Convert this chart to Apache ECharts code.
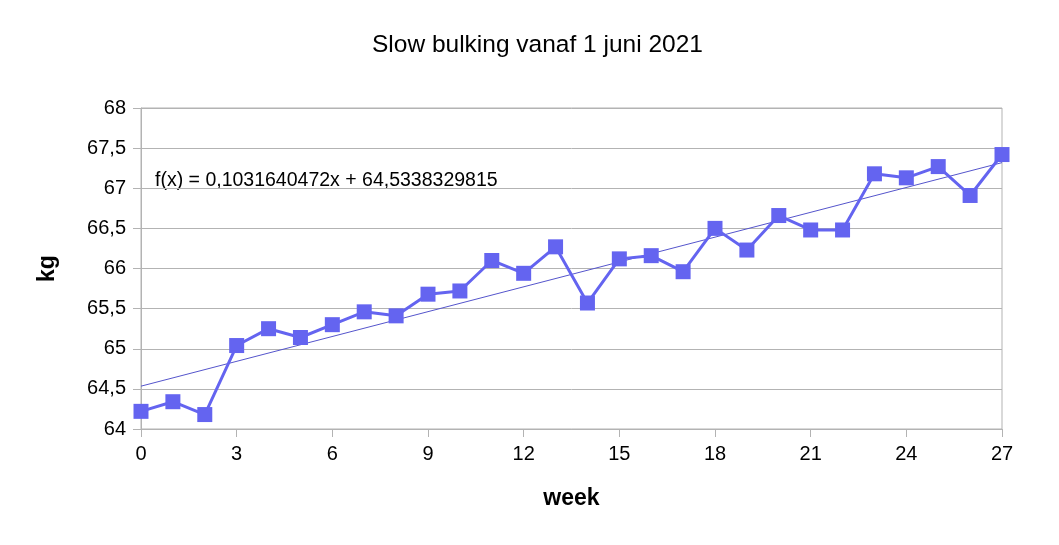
<!DOCTYPE html>
<html>
<head>
<meta charset="utf-8">
<script src="https://cdn.jsdelivr.net/npm/echarts@6/dist/echarts.min.js"></script>
<style>
html,body{margin:0;padding:0;background:#fff;}
#chart{width:1059px;height:545px;}
</style>
</head>
<body>
<div id="chart"></div>
<script>
var weeks = [0,1,2,3,4,5,6,7,8,9,10,11,12,13,14,15,16,17,18,19,20,21,22,23,24,25,26,27];
var kg = [64.22,64.34,64.18,65.04,65.25,65.14,65.30,65.46,65.41,65.68,65.72,66.10,65.94,66.27,65.57,66.12,66.16,65.96,66.50,66.23,66.66,66.48,66.48,67.18,67.13,67.27,66.91,67.42];
var trendSlope = 0.1031640472;
var trendIntercept = 64.5338329815;
var xTicks = {min: 0, max: 27, interval: 3};
var yTicks = {min: 64, max: 68, interval: 0.5};
var titleText = 'Slow bulking vanaf 1 juni 2021';
var xName = 'week';
var yName = 'kg';

function comma(v){ return String(v).replace('.', ','); }

var points = weeks.map(function(w, i){ return [w, kg[i]]; });
var trend = [[xTicks.min, trendIntercept + trendSlope * xTicks.min],
             [xTicks.max, trendIntercept + trendSlope * xTicks.max]];
var eqText = 'f(x) = ' + comma(trendSlope) + 'x + ' + comma(trendIntercept);

var font = 'Liberation Sans, Arial, sans-serif';
var gray = '#b3b3b3';
var chart = echarts.init(document.getElementById('chart'));
chart.setOption({
  animation: false,
  backgroundColor: '#fff',
  title: {
    text: titleText, left: 367, top: 28,
    textStyle: {fontFamily: font, fontSize: 24.5, fontWeight: 'normal', color: '#000'}
  },
  grid: {left: 141, right: 57, top: 108, bottom: 116, show: true, borderColor: gray, borderWidth: 1, backgroundColor: 'transparent'},
  xAxis: {
    type: 'value', min: xTicks.min, max: xTicks.max, interval: xTicks.interval,
    name: xName, nameLocation: 'middle', nameGap: 58,
    nameTextStyle: {fontFamily: font, fontSize: 23, fontWeight: 'bold', color: '#000'},
    axisLine: {show: true, lineStyle: {color: gray, width: 1}},
    axisTick: {show: true, length: 8, lineStyle: {color: gray}},
    axisLabel: {fontFamily: font, fontSize: 20, color: '#000', margin: 15, formatter: function(v){return comma(v);}},
    splitLine: {show: false}
  },
  yAxis: {
    type: 'value', min: yTicks.min, max: yTicks.max, interval: yTicks.interval,
    name: yName, nameLocation: 'middle', nameGap: 82, nameRotate: 90,
    nameTextStyle: {fontFamily: font, fontSize: 23, fontWeight: 'bold', color: '#000'},
    axisLine: {show: true, lineStyle: {color: gray, width: 1}},
    axisTick: {show: true, length: 8, lineStyle: {color: gray}},
    axisLabel: {fontFamily: font, fontSize: 20, color: '#000', margin: 15, formatter: function(v){return comma(v);}},
    splitLine: {show: true, lineStyle: {color: gray, width: 1}}
  },
  graphic: [{
    type: 'text', left: 155, top: 171,
    style: {text: eqText, fontFamily: font, fontSize: 19.5, fill: '#000'}
  }],
  series: [
    {
      type: 'line', data: trend, symbol: 'none', silent: true, z: 3,
      lineStyle: {color: '#5555cc', width: 1}
    },
    {
      type: 'line', data: points, symbol: 'rect', symbolSize: 15, z: 4,
      itemStyle: {color: '#6464f0'},
      lineStyle: {color: '#6464f0', width: 3}
    }
  ]
});
</script>
</body>
</html>
